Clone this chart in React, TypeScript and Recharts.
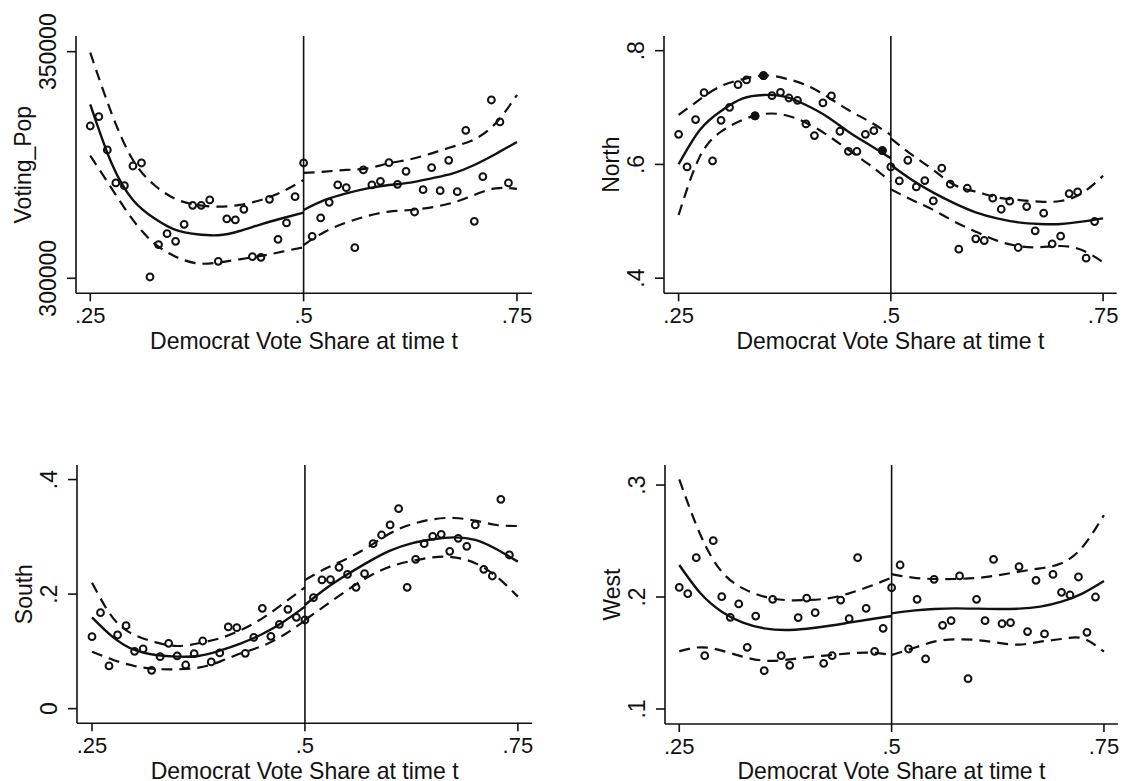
import { ComposedChart, Line, Scatter, XAxis, YAxis, ReferenceLine } from 'recharts'

const INK = '#111'
const FONT = '"Liberation Sans", Arial, sans-serif'

const binX = [
  0.25, 0.26, 0.27, 0.28, 0.29, 0.3, 0.31, 0.32, 0.33, 0.34, 0.35, 0.36, 0.37, 0.38, 0.39, 0.4, 0.41,
  0.42, 0.43, 0.44, 0.45, 0.46, 0.47, 0.48, 0.49, 0.5, 0.51, 0.52, 0.53, 0.54, 0.55, 0.56, 0.57, 0.58,
  0.59, 0.6, 0.61, 0.62, 0.63, 0.64, 0.65, 0.66, 0.67, 0.68, 0.69, 0.7, 0.71, 0.72, 0.73, 0.74,
]
const leftX = [0.25, 0.275, 0.3, 0.325, 0.35, 0.375, 0.4, 0.425, 0.45, 0.475, 0.5]
const rightX = [0.5, 0.525, 0.55, 0.575, 0.6, 0.625, 0.65, 0.675, 0.7, 0.725, 0.75]
const xTicks = [0.25, 0.5, 0.75]

// Voting_Pop
const popBins = [
  333600, 335660, 328310, 321030, 320440, 324780, 325440, 300290, 307430, 309850, 308160, 311910, 316100,
  316100, 317280, 303750, 313090, 312870, 315220, 304780, 304630, 317430, 308600, 312210, 318010, 325440,
  309260, 313310, 316760, 320590, 320000, 306760, 323900, 320590, 321400, 325510, 320730, 323600, 314630,
  319560, 324410, 319340, 326030, 319120, 332650, 312570, 322430, 339340, 334490, 321030,
]
const popMeanL = [338380, 325370, 317280, 313240, 310660, 309710, 309490, 310440, 311910, 313240, 314480]
const popMeanR = [315070, 317280, 318750, 319850, 320590, 321100, 322060, 323160, 325000, 327430, 330070]
const popUpperL = [349780, 336400, 326100, 320590, 317500, 316180, 315810, 316180, 317280, 319120, 321690]
const popUpperR = [323240, 323530, 323900, 324260, 325370, 326250, 327570, 329040, 330660, 334190, 340440]
const popLowerL = [327060, 319850, 312870, 307720, 304780, 303310, 303460, 304190, 304930, 305880, 306840]
const popLowerR = [307350, 310290, 312280, 313750, 314710, 315070, 315660, 316690, 318380, 319850, 319710]

// North
const northBins = [
  0.653, 0.5956, 0.6788, 0.7262, 0.6061, 0.6776, 0.7004, 0.7403, 0.7485, 0.6852, 0.7561, 0.7209, 0.7268,
  0.7168, 0.7127, 0.6712, 0.6507, 0.7081, 0.7204, 0.6583, 0.6231, 0.6231, 0.653, 0.6594, 0.6243, 0.5956,
  0.571, 0.6073, 0.5605, 0.5716, 0.5359, 0.5933, 0.5652, 0.451, 0.5581, 0.4691, 0.4662, 0.5406, 0.5212,
  0.5353, 0.4539, 0.5259, 0.4832, 0.5142, 0.4603, 0.4738, 0.5488, 0.5517, 0.4351, 0.4996,
]
const northMeanL = [0.6003, 0.6606, 0.694, 0.7157, 0.7221, 0.7192, 0.7045, 0.684, 0.6576, 0.6342, 0.6107]
const northMeanR = [0.599, 0.5726, 0.5504, 0.5316, 0.5158, 0.5052, 0.4982, 0.4953, 0.4953, 0.4994, 0.5052]
const northUpperL = [0.6869, 0.7144, 0.7379, 0.7496, 0.7566, 0.7514, 0.7396, 0.7192, 0.6957, 0.6752, 0.6517]
const northUpperR = [0.6459, 0.6166, 0.5902, 0.5638, 0.5521, 0.5422, 0.5375, 0.5345, 0.5357, 0.5492, 0.5802]
const northLowerL = [0.5111, 0.6137, 0.6576, 0.6781, 0.6887, 0.6869, 0.6734, 0.6517, 0.6254, 0.599, 0.5697]
const northLowerR = [0.5562, 0.5375, 0.5199, 0.4994, 0.4818, 0.466, 0.4566, 0.4543, 0.4566, 0.4496, 0.4279]
const northSolidX = [0.34, 0.35, 0.49]
const northSolidY = [0.6852, 0.7561, 0.6243]

// South
const southBins = [
  0.1257, 0.1676, 0.0745, 0.1286, 0.1449, 0.1001, 0.1042, 0.0669, 0.0908, 0.1141, 0.092, 0.0762, 0.096,
  0.1181, 0.0815, 0.0972, 0.1426, 0.1414, 0.0966, 0.1245, 0.1752, 0.1263, 0.1472, 0.1734, 0.1595, 0.1548,
  0.1938, 0.2247, 0.2252, 0.2468, 0.2345, 0.2118, 0.2357, 0.2881, 0.3032, 0.3207, 0.3492, 0.2118, 0.2607,
  0.2881, 0.3009, 0.3044, 0.2747, 0.2974, 0.2834, 0.3207, 0.2433, 0.2316, 0.3655, 0.2683,
]
const southMeanL = [0.1595, 0.1245, 0.1024, 0.0937, 0.0908, 0.092, 0.1013, 0.1141, 0.1304, 0.1519, 0.1781]
const southMeanR = [0.181, 0.2101, 0.2345, 0.2567, 0.2759, 0.2887, 0.2957, 0.2991, 0.2945, 0.2782, 0.2567]
const southUpperL = [0.22, 0.1577, 0.1286, 0.1158, 0.1094, 0.1141, 0.1228, 0.1374, 0.1577, 0.1839, 0.2118]
const southUpperR = [0.2247, 0.245, 0.2625, 0.2829, 0.3061, 0.3218, 0.3306, 0.3329, 0.3282, 0.3207, 0.3189]
const southLowerL = [0.0995, 0.085, 0.0745, 0.0693, 0.0687, 0.0716, 0.0821, 0.0966, 0.1094, 0.1286, 0.1536]
const southLowerR = [0.1548, 0.181, 0.2072, 0.2305, 0.2479, 0.2578, 0.2642, 0.2642, 0.2538, 0.2305, 0.1956]

// West
const westBins = [
  0.2086, 0.203, 0.2351, 0.1476, 0.2503, 0.2003, 0.1819, 0.1938, 0.1551, 0.183, 0.1342, 0.1979, 0.1476,
  0.139, 0.1816, 0.1991, 0.186, 0.1408, 0.1476, 0.1973, 0.1807, 0.2351, 0.1899, 0.1515, 0.172, 0.2083,
  0.2286, 0.1536, 0.1979, 0.1447, 0.2158, 0.1747, 0.1789, 0.2188, 0.1271, 0.1979, 0.1789, 0.2336, 0.1762,
  0.1771, 0.2271, 0.1691, 0.2149, 0.167, 0.2202, 0.2042, 0.2018, 0.2179, 0.1685, 0.2,
]
const westMeanL = [0.2286, 0.2033, 0.1869, 0.1771, 0.172, 0.1705, 0.1717, 0.1741, 0.1771, 0.1801, 0.183]
const westMeanR = [0.1854, 0.1878, 0.1893, 0.1899, 0.1896, 0.1893, 0.1896, 0.1914, 0.1958, 0.2033, 0.2143]
const westUpperL = [0.3051, 0.2554, 0.2226, 0.2077, 0.2003, 0.1973, 0.1973, 0.1988, 0.2033, 0.2098, 0.2173]
const westUpperR = [0.2205, 0.2173, 0.2161, 0.2161, 0.217, 0.2194, 0.2226, 0.2256, 0.2301, 0.2449, 0.2732]
const westLowerL = [0.1515, 0.1551, 0.1521, 0.1467, 0.1432, 0.1438, 0.1461, 0.1479, 0.1497, 0.1503, 0.1482]
const westLowerR = [0.1482, 0.1542, 0.1601, 0.1622, 0.1616, 0.1592, 0.1575, 0.1601, 0.1625, 0.1631, 0.1512]

const zip = (xs: number[], ys: number[]) => xs.map((x, i) => ({ x, y: ys[i] }))
const trimZero = (v: number) => String(v).replace(/^0\./, '.')

const AXIS_W = 70
const AXIS_H = 66
const PAD_TOP = 30

function YTick({ x, y, payload }: any) {
  return (
    <text
      x={x - 19}
      y={y}
      transform={`rotate(-90 ${x - 19} ${y})`}
      textAnchor="middle"
      dominantBaseline="central"
      fontSize={23}
      fontFamily={FONT}
      fill={INK}
    >
      {trimZero(payload.value)}
    </text>
  )
}

const OpenDot = ({ cx, cy }: any) => <circle cx={cx} cy={cy} r={3.4} fill="none" stroke={INK} strokeWidth={2} />
const SolidDot = ({ cx, cy }: any) => <circle cx={cx} cy={cy} r={4.4} fill={INK} />

type PanelProps = {
  title: string
  box: number[] // left, top, right, bottom of the plot area
  xDomain: number[]
  yDomain: number[]
  yTicks: number[]
  bins: number[]
  meanL: number[]
  meanR: number[]
  upperL: number[]
  upperR: number[]
  lowerL: number[]
  lowerR: number[]
  solid?: { x: number; y: number }[]
}

function Panel({ title, box, xDomain, yDomain, yTicks, bins, meanL, meanR, upperL, upperR, lowerL, lowerR, solid }: PanelProps) {
  const [l, t, r, b] = box
  const bands = [
    { key: 'upperL', xs: leftX, ys: upperL, dash: '11 7', w: 2.2 },
    { key: 'upperR', xs: rightX, ys: upperR, dash: '11 7', w: 2.2 },
    { key: 'lowerL', xs: leftX, ys: lowerL, dash: '11 7', w: 2.2 },
    { key: 'lowerR', xs: rightX, ys: lowerR, dash: '11 7', w: 2.2 },
    { key: 'meanL', xs: leftX, ys: meanL, dash: undefined, w: 2.4 },
    { key: 'meanR', xs: rightX, ys: meanR, dash: undefined, w: 2.4 },
  ]
  return (
    <div style={{ position: 'absolute', left: l - AXIS_W, top: t - PAD_TOP }}>
      <ComposedChart
        width={AXIS_W + (r - l) + 6}
        height={PAD_TOP + (b - t) + AXIS_H}
        margin={{ top: PAD_TOP, right: 6, left: 0, bottom: 0 }}
      >
        <XAxis
          dataKey="x"
          type="number"
          domain={xDomain}
          ticks={xTicks}
          tickFormatter={trimZero}
          height={AXIS_H}
          tickSize={8}
          tickMargin={6}
          allowDataOverflow
          stroke={INK}
          strokeWidth={1.6}
          tick={{ fontSize: 22, fill: INK, fontFamily: FONT }}
          label={{
            value: 'Democrat Vote Share at time t',
            position: 'insideTop',
            offset: 39,
            fontSize: 23,
            fill: INK,
            fontFamily: FONT,
          }}
        />
        <YAxis
          dataKey="y"
          type="number"
          domain={yDomain}
          ticks={yTicks}
          width={AXIS_W}
          tickSize={9}
          tickMargin={0}
          allowDataOverflow
          stroke={INK}
          strokeWidth={1.6}
          tick={YTick}
          label={{
            value: title,
            angle: -90,
            position: 'insideLeft',
            offset: 17,
            textAnchor: 'middle',
            fontSize: 23,
            fill: INK,
            fontFamily: FONT,
          }}
        />
        <ReferenceLine x={0.5} stroke={INK} strokeWidth={1.6} />
        {bands.map((s) => (
          <Line
            key={s.key}
            data={zip(s.xs, s.ys)}
            dataKey="y"
            type="natural"
            stroke={INK}
            strokeWidth={s.w}
            strokeDasharray={s.dash}
            dot={false}
            activeDot={false}
            legendType="none"
            isAnimationActive={false}
          />
        ))}
        <Scatter data={zip(binX, bins)} dataKey="y" shape={OpenDot} isAnimationActive={false} />
        {solid && <Scatter data={solid} dataKey="y" shape={SolidDot} isAnimationActive={false} />}
      </ComposedChart>
    </div>
  )
}

export default function App() {
  return (
    <div style={{ position: 'absolute', left: 0, top: 0, width: 1122, height: 781, overflow: 'hidden', background: '#fff' }}>
      <Panel
        title="Voting_Pop"
        box={[76, 36, 532, 293.3]}
        xDomain={[0.2333, 0.7676]}
        yDomain={[296690, 353456]}
        yTicks={[300000, 350000]}
        bins={popBins}
        meanL={popMeanL}
        meanR={popMeanR}
        upperL={popUpperL}
        upperR={popUpperR}
        lowerL={popLowerL}
        lowerR={popLowerR}
      />
      <Panel
        title="North"
        box={[664.3, 36, 1117, 293.3]}
        xDomain={[0.2328, 0.766]}
        yDomain={[0.3734, 0.8258]}
        yTicks={[0.4, 0.6, 0.8]}
        bins={northBins}
        meanL={northMeanL}
        meanR={northMeanR}
        upperL={northUpperL}
        upperR={northUpperR}
        lowerL={northLowerL}
        lowerR={northLowerR}
        solid={zip(northSolidX, northSolidY)}
      />
      <Panel
        title="South"
        box={[76.8, 465, 532, 723.3]}
        xDomain={[0.2324, 0.7668]}
        yDomain={[-0.0256, 0.4254]}
        yTicks={[0, 0.2, 0.4]}
        bins={southBins}
        meanL={southMeanL}
        meanR={southMeanR}
        upperL={southUpperL}
        upperR={southUpperR}
        lowerL={southLowerL}
        lowerR={southLowerR}
      />
      <Panel
        title="West"
        box={[665, 465, 1117.9, 724]}
        xDomain={[0.2332, 0.7664]}
        yDomain={[0.0866, 0.3179]}
        yTicks={[0.1, 0.2, 0.3]}
        bins={westBins}
        meanL={westMeanL}
        meanR={westMeanR}
        upperL={westUpperL}
        upperR={westUpperR}
        lowerL={westLowerL}
        lowerR={westLowerR}
      />
    </div>
  )
}
